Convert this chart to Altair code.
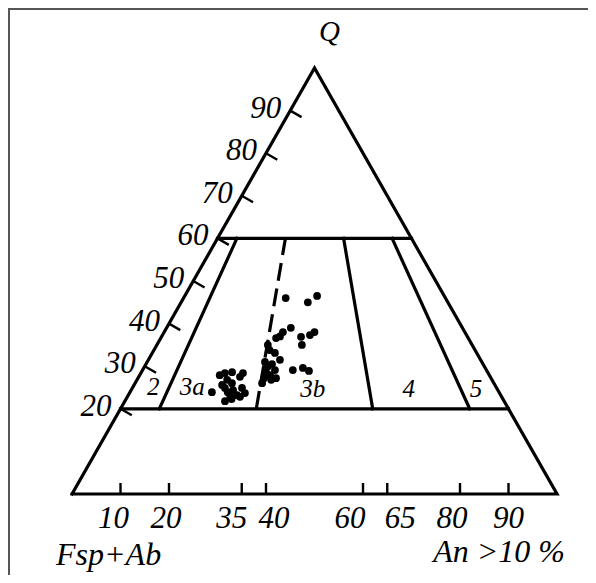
import altair as alt
import pandas as pd

# ---- data ----
left_ticks = [20, 30, 40, 50, 60, 70, 80, 90]          # Q %
base_ticks = [10, 20, 35, 40, 60, 65, 80, 90]          # An ratio %
field_q = [20, 60]                                      # horizontal field limits (Q %)
solid_ratios = [10, 65, 90]
dashed_ratios = [35]

region_names = ["2", "3a", "3b", "4", "5"]
region_r = [6.7, 17.2, 49.5, 75.2, 93.1]
region_q = [23.2, 23.2, 22.8, 22.8, 22.8]

pt_r = [39, 51, 47.5, 42, 39.5, 38.7, 37.5, 50, 48.5, 45.6, 46, 35.2, 36, 37.8,
        39.6, 35.2, 36.3, 37.4, 36, 37.3, 38.5, 35.7, 37.8, 39.1, 35.4, 43.7,
        46.6, 48.4, 22.2, 22.9, 24.2, 26.2, 29.4, 28.8, 25.4, 27, 24.4, 25.4,
        27.8, 30.1, 31.2, 29.2, 27.5, 26.4, 28, 30.1, 26.5]
pt_q = [46, 46.5, 45, 39, 38, 37, 36.6, 38, 37.3, 36.9, 35, 35, 33.8, 33.1,
        31.5, 31, 30, 30.5, 28.6, 27.9, 29.1, 27.2, 26.8, 27.2, 26, 29.1,
        29.6, 28.9, 23.9, 27.9, 28.4, 28.6, 28.4, 27.5, 26.8, 26, 25.6, 24.9,
        24.4, 24.9, 23.7, 23.2, 22.8, 21.8, 22.3, 22.8, 23.9]

# ---- geometry helpers ----
PX_X = 4.85   # px per base-% unit
PX_Y = 4.26   # px per Q-% unit


def tern(r, q):
    return r * (100 - q) / 100 + q / 2, q


FONT = "Times New Roman, Liberation Serif, serif"
xs = alt.Scale(domain=[-64 / PX_X, -64 / PX_X + 580 / PX_X], nice=False, zero=False)
ys = alt.Scale(domain=[486 / PX_Y - 567 / PX_Y, 486 / PX_Y], nice=False, zero=False)
X = alt.X("X:Q", scale=xs, axis=None)
Y = alt.Y("Y:Q", scale=ys, axis=None)

# outline + field lines
rows = []
tri = [(0, 0), (0, 100), (100, 0), (0, 0)]
for i, (r, q) in enumerate(tri):
    x, y = tern(r, q)
    rows.append(dict(X=x, Y=y, id="tri", o=i))
for q in field_q:
    for i, r in enumerate([0, 100]):
        x, y = tern(r, q)
        rows.append(dict(X=x, Y=y, id=f"h{q}", o=i))
for r in solid_ratios:
    for i, q in enumerate(field_q):
        x, y = tern(r, q)
        rows.append(dict(X=x, Y=y, id=f"r{r}", o=i))
solid_df = pd.DataFrame(rows)

drows = []
for r in dashed_ratios:
    for i, q in enumerate(field_q):
        x, y = tern(r, q)
        drows.append(dict(X=x, Y=y, id=f"d{r}", o=i))
dash_df = pd.DataFrame(drows)

solid = alt.Chart(solid_df).mark_line(color="black", strokeWidth=3.2, strokeJoin="miter",
                                      strokeCap="square").encode(
    x=X, y=Y, detail="id:N", order="o:Q")
dashed = alt.Chart(dash_df).mark_line(color="black", strokeWidth=3.2,
                                      strokeDash=[18, 8]).encode(
    x=X, y=Y, detail="id:N", order="o:Q")

# left ticks (perpendicular, pointing inward)
lt = []
for q in left_ticks:
    x, y = tern(0, q)
    lt.append(dict(X=x, Y=y, X2=x + 11.3 / PX_X, Y2=y - 6.5 / PX_Y, lab=str(q)))
lt_df = pd.DataFrame(lt)
lticks = alt.Chart(lt_df).mark_rule(color="black", strokeWidth=2.4).encode(
    x=X, y=Y, x2="X2:Q", y2="Y2:Q")
llabels = alt.Chart(lt_df).mark_text(font=FONT, fontStyle="italic", fontSize=31,
                                     align="right", baseline="alphabetic",
                                     dx=-9, dy=7, color="black").encode(
    x=X, y=Y, text="lab:N")

# base ticks
label_shift = {10: -7, 20: -3, 35: -10, 40: 8, 60: -13, 65: 13, 80: -8, 90: 0}
bt = []
for r in base_ticks:
    x, y = tern(r, 0)
    bt.append(dict(X=x, Y=y, Y2=y + 11 / PX_Y, XL=x + label_shift[r] / PX_X, lab=str(r)))
bt_df = pd.DataFrame(bt)
bticks = alt.Chart(bt_df).mark_rule(color="black", strokeWidth=2.4).encode(
    x=X, y=Y, y2="Y2:Q")
blabels = alt.Chart(bt_df).mark_text(font=FONT, fontStyle="italic", fontSize=31,
                                     align="center", baseline="alphabetic",
                                     dy=34, color="black").encode(
    x=alt.X("XL:Q", scale=xs, axis=None), y=Y, text="lab:N")

# region labels
reg = []
for n, r, q in zip(region_names, region_r, region_q):
    x, y = tern(r, q)
    reg.append(dict(X=x, Y=y, lab=n))
reg_df = pd.DataFrame(reg)
rlabels = alt.Chart(reg_df).mark_text(font=FONT, fontStyle="italic", fontSize=25,
                                      align="center", baseline="alphabetic",
                                      color="black").encode(
    x=X, y=Y, text="lab:N")

# data points
pts = [dict(zip(("X", "Y"), tern(r, q))) for r, q in zip(pt_r, pt_q)]
pts_df = pd.DataFrame(pts)
points = alt.Chart(pts_df).mark_circle(color="black", size=60, opacity=1).encode(x=X, y=Y)

# apex / corner names
qx, qy = tern(0, 100)
q_lab = alt.Chart(pd.DataFrame([dict(X=qx, Y=qy, lab="Q")])).mark_text(
    font=FONT, fontStyle="italic", fontSize=29, align="center", baseline="alphabetic",
    dx=15, dy=-27, color="black").encode(x=X, y=Y, text="lab:N")
lx, ly = tern(0, 0)
l_lab = alt.Chart(pd.DataFrame([dict(X=lx, Y=ly, lab="Fsp+Ab")])).mark_text(
    font=FONT, fontStyle="italic", fontSize=32, align="left", baseline="alphabetic",
    dx=-16, dy=71, color="black").encode(x=X, y=Y, text="lab:N")
rx, ry = tern(100, 0)
r_lab = alt.Chart(pd.DataFrame([dict(X=rx, Y=ry, lab="An >10 %")])).mark_text(
    font=FONT, fontStyle="italic", fontSize=32, align="right", baseline="alphabetic",
    dx=8, dy=68, color="black").encode(x=X, y=Y, text="lab:N")

# partial frame (top and left edges visible in the reference)
frame_top = alt.Chart(pd.DataFrame([{"a": 0}])).mark_rule(color="#555", strokeWidth=2).encode(
    x=alt.value(0), x2=alt.value(580), y=alt.value(1))
frame_left = alt.Chart(pd.DataFrame([{"a": 0}])).mark_rule(color="#555", strokeWidth=2).encode(
    x=alt.value(1), y=alt.value(1), y2=alt.value(567))

chart = alt.layer(frame_top, frame_left, solid, dashed, lticks, bticks, llabels, blabels,
                  rlabels, points, q_lab, l_lab, r_lab).properties(
    width=580, height=567, autosize=alt.AutoSizeParams(type="none"), padding=0
).configure_view(stroke=None)

chart.save("out.html", embed_options={"renderer": "svg", "actions": False})
